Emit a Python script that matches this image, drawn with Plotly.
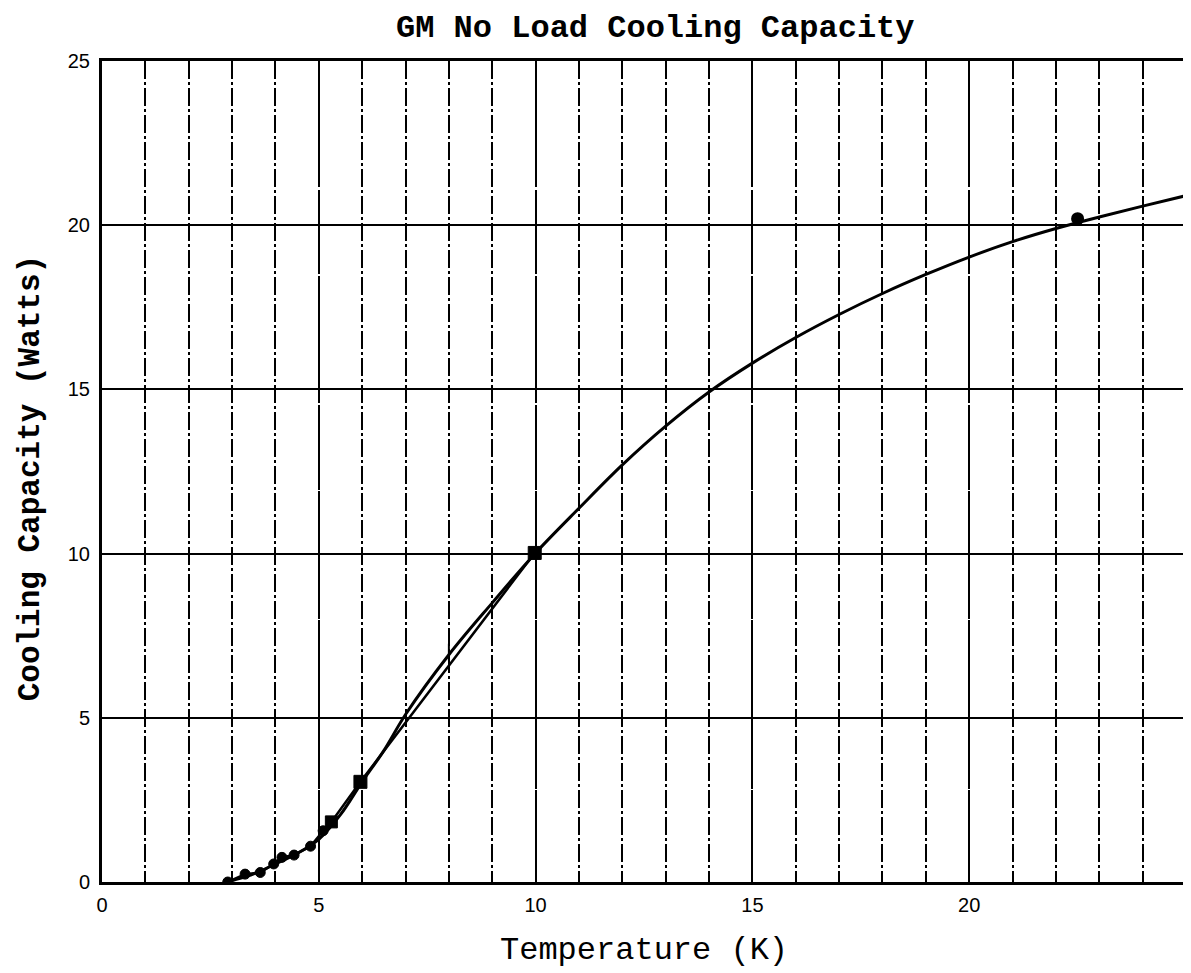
import plotly.graph_objects as go

# ---- data ----
measured_T = [2.9, 3.3, 3.65, 3.96, 4.15, 4.43, 4.81, 5.10, 5.29, 5.96, 9.98]
measured_W = [0.0, 0.24, 0.29, 0.55, 0.75, 0.82, 1.09, 1.56, 1.83, 3.05, 10.02]

extra_T = [22.5]
extra_W = [20.2]

tick_T = [8.0]
tick_W = [7.0]

fit_T = [2.9, 3.0, 3.5, 4.0, 4.5, 5.0, 5.5, 6.0, 6.5, 7.0, 8.0, 9.0, 10.0,
         11, 12, 13, 14, 15, 16, 17, 18, 19, 20, 21, 22, 23, 24, 25]
fit_W = [0.0, 0.04, 0.25, 0.55, 0.87, 1.3, 2.05, 3.05, 4.0, 5.1, 6.92, 8.5, 10.02,
         11.38, 12.7, 13.88, 14.92, 15.80, 16.58, 17.28, 17.92, 18.50, 19.03,
         19.50, 19.90, 20.25, 20.58, 20.90]

x_ticks = [0, 5, 10, 15, 20]
x_labels = ["0", "5", "10", "15", "20"]
y_ticks = [0, 5, 10, 15, 20, 25]
y_labels = ["0", "5", "10", "15", "20", "25"]

title_text = "GM No Load Cooling Capacity"
x_title = "Temperature (K)"
y_title = "Cooling Capacity (Watts)"

# ---- figure ----
fig = go.Figure()

fig.add_trace(go.Scatter(
    x=fit_T, y=fit_W, mode="lines",
    line=dict(color="black", width=3, shape="spline", smoothing=1.0),
    showlegend=False, hoverinfo="skip"))

fig.add_trace(go.Scatter(
    x=measured_T, y=measured_W, mode="lines",
    line=dict(color="black", width=2.5),
    showlegend=False, hoverinfo="skip"))

marker_sizes = [10, 10, 10, 10, 10, 10, 10, 10, 12, 13, 13]
marker_symbols = ["circle"] * 8 + ["square"] * 3
fig.add_trace(go.Scatter(
    x=measured_T, y=measured_W, mode="markers",
    marker=dict(color="black", size=marker_sizes, symbol=marker_symbols,
                opacity=1, line=dict(color="black", width=1)),
    showlegend=False))

fig.add_trace(go.Scatter(
    x=extra_T, y=extra_W, mode="markers",
    marker=dict(color="black", size=13, symbol="circle", opacity=1),
    showlegend=False))

fig.add_trace(go.Scatter(
    x=tick_T, y=tick_W, mode="markers",
    marker=dict(color="black", size=12, symbol="line-ns",
                line=dict(color="black", width=2)),
    showlegend=False))

mono = "Liberation Mono, Courier New, monospace"
sans = "Liberation Sans, Arial, sans-serif"

# the page body has an 8px margin, so the figure is sized and offset for it
fig.update_layout(
    width=1183, height=965,
    margin=dict(l=94, r=2, t=53, b=91),
    paper_bgcolor="white", plot_bgcolor="white",
    showlegend=False,
    annotations=[
        dict(text="<b>" + title_text + "</b>", xref="paper", yref="paper",
             x=0.510, y=1.040, showarrow=False, xanchor="center", yanchor="middle",
             font=dict(family=mono, size=32, color="black")),
        dict(text=x_title, xref="paper", yref="paper",
             x=0.4996, y=-0.084, showarrow=False, xanchor="center", yanchor="middle",
             font=dict(family=mono, size=32, color="black")),
        dict(text="<b>" + y_title + "</b>", xref="paper", yref="paper",
             x=-0.0662, y=0.492, showarrow=False, xanchor="center", yanchor="middle",
             textangle=-90,
             font=dict(family=mono, size=31, color="black")),
    ],
)

fig.update_xaxes(
    range=[0, 25], tickvals=x_ticks, ticktext=x_labels,
    showgrid=True, gridcolor="black", gridwidth=2, griddash="40px,3px",
    minor=dict(dtick=1, tick0=0, showgrid=True, gridcolor="black",
               gridwidth=2, griddash="18px,3px,3px,3px"),
    showline=True, linecolor="black", linewidth=2.5, mirror=True,
    ticks="", ticklabelstandoff=3, zeroline=False,
    tickfont=dict(family=sans, size=20, color="black"),
)
fig.update_yaxes(
    range=[0, 25], tickvals=y_ticks, ticktext=y_labels,
    showgrid=True, gridcolor="black", gridwidth=1.5,
    showline=True, linecolor="black", linewidth=3, mirror=True,
    ticks="", ticklabelstandoff=5, zeroline=False,
    tickfont=dict(family=sans, size=20, color="black"),
)

fig.write_html("out.html")
